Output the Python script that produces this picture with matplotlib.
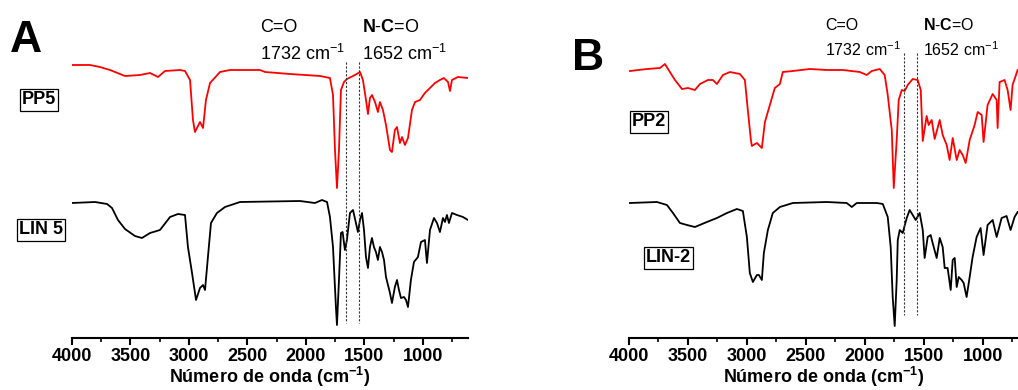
import numpy as np
import matplotlib
matplotlib.use("Agg")
import matplotlib.pyplot as plt
from matplotlib.ticker import MultipleLocator

plt.rcParams['font.family'] = ['Liberation Sans', 'DejaVu Sans']
plt.rcParams['mathtext.fontset'] = 'custom'
plt.rcParams['mathtext.rm'] = 'Liberation Sans'
plt.rcParams['mathtext.bf'] = 'Liberation Sans:bold'
plt.rcParams['mathtext.default'] = 'regular'

# spectra: wavenumber (cm-1) and vertical offset (px from top, larger = lower)
pp5_wn = [4000, 3846, 3761, 3675, 3547, 3419, 3333, 3265, 3205, 3077, 3034, 2991, 2966, 2949,
          2906, 2880, 2855, 2820, 2735, 2650, 2393, 2350, 2137, 1880, 1795, 1769, 1752, 1735,
          1718, 1701, 1675, 1650, 1581, 1538, 1513, 1487, 1470, 1453, 1436, 1410, 1385, 1368,
          1342, 1316, 1282, 1265, 1240, 1222, 1197, 1179, 1154, 1128, 1094, 1068, 1026, 983,
          940, 897, 855, 821, 786, 769, 752, 701, 615]
pp5_off = [65, 65, 67, 70, 76, 75, 73, 77, 71, 70, 71, 80, 120, 132,
           122, 128, 100, 83, 72, 70, 70, 72, 74, 76, 78, 95, 150, 188,
           150, 90, 82, 79, 75, 72, 80, 100, 114, 98, 95, 102, 112, 102,
           110, 125, 150, 152, 130, 127, 143, 137, 145, 138, 110, 102, 100, 93,
           88, 83, 80, 78, 82, 91, 80, 77, 78]

lin5_wn = [4000, 3803, 3700, 3658, 3607, 3547, 3462, 3402, 3333, 3248, 3162, 3094, 3034, 3009,
           2974, 2940, 2906, 2880, 2863, 2838, 2812, 2761, 2692, 2564, 2051, 1923, 1863, 1820,
           1795, 1769, 1744, 1735, 1718, 1701, 1687, 1667, 1650, 1624, 1598, 1573, 1556, 1538,
           1521, 1504, 1487, 1470, 1453, 1436, 1419, 1402, 1385, 1368, 1350, 1333, 1316, 1282,
           1265, 1240, 1222, 1205, 1188, 1162, 1145, 1128, 1103, 1077, 1043, 1017, 983, 966,
           940, 906, 880, 855, 829, 812, 795, 778, 752, 709, 658, 615]
lin5_off = [203, 202, 204, 208, 220, 229, 236, 238, 233, 230, 217, 214, 215, 247,
            273, 300, 288, 285, 290, 257, 223, 213, 207, 202, 201, 203, 200, 202,
            217, 247, 307, 325, 280, 233, 232, 250, 240, 213, 210, 223, 232, 220,
            213, 230, 257, 268, 247, 238, 247, 252, 260, 247, 252, 260, 277, 293,
            303, 287, 280, 290, 298, 297, 300, 307, 280, 262, 257, 242, 240, 263,
            230, 218, 223, 232, 218, 222, 215, 223, 213, 215, 217, 220]

pp2_wn = [3992, 3847, 3737, 3695, 3653, 3610, 3551, 3500, 3441, 3398, 3331, 3288, 3254, 3203,
          3144, 3059, 3017, 2992, 2966, 2958, 2915, 2873, 2847, 2805, 2763, 2720, 2695, 2610,
          2466, 2322, 2186, 2042, 1983, 1941, 1873, 1831, 1805, 1771, 1754, 1729, 1712, 1686,
          1661, 1636, 1593, 1551, 1525, 1508, 1475, 1458, 1432, 1407, 1364, 1339, 1305, 1280,
          1254, 1220, 1195, 1169, 1144, 1110, 1068, 1042, 1008, 992, 958, 915, 881, 873,
          856, 814, 788, 763, 746, 703]
pp2_off = [71, 69, 68, 64, 72, 80, 89, 88, 90, 84, 80, 80, 84, 75,
           72, 74, 80, 110, 140, 146, 143, 148, 122, 105, 88, 84, 72, 71,
           69, 70, 70, 72, 75, 71, 69, 75, 95, 130, 188, 140, 100, 90,
           91, 85, 79, 80, 90, 141, 116, 125, 120, 139, 120, 135, 145, 160,
           138, 160, 150, 155, 163, 140, 125, 112, 115, 142, 105, 94, 100, 128,
           82, 80, 90, 110, 85, 70]

lin2_wn = [3992, 3763, 3678, 3627, 3568, 3508, 3441, 3339, 3254, 3169, 3085, 3034, 3000, 2975,
           2949, 2915, 2898, 2873, 2856, 2822, 2780, 2720, 2610, 2322, 2153, 2110, 2068, 1898,
           1847, 1805, 1780, 1763, 1746, 1729, 1720, 1703, 1678, 1644, 1619, 1593, 1568, 1534,
           1508, 1492, 1466, 1441, 1424, 1390, 1364, 1339, 1322, 1297, 1271, 1254, 1237, 1220,
           1203, 1178, 1161, 1136, 1110, 1085, 1051, 1017, 992, 958, 915, 881, 839, 797,
           763, 729, 703]
lin2_off = [203, 202, 205, 213, 223, 225, 227, 222, 218, 213, 209, 211, 237, 273,
            282, 275, 275, 280, 253, 230, 213, 207, 203, 202, 203, 207, 203, 203,
            204, 217, 247, 297, 326, 280, 240, 230, 233, 218, 210, 215, 220, 213,
            230, 258, 237, 235, 243, 258, 238, 247, 268, 268, 290, 260, 258, 287,
            277, 280, 283, 297, 277, 257, 237, 228, 255, 225, 220, 237, 218, 216,
            230, 217, 212]

ticks = [4000, 3500, 3000, 2500, 2000, 1500, 1000]

W, H = 1018, 390
fig = plt.figure(figsize=(W / 100, H / 100), dpi=100)


def px_axes(x0, x1):
    return fig.add_axes([x0 / W, 1 - 338 / H, (x1 - x0) / W, 338 / H])


def style(ax, xlim):
    ax.set_xlim(*xlim)
    ax.set_ylim(338, 0)
    for s in ['left', 'right', 'top']:
        ax.spines[s].set_visible(False)
    ax.spines['bottom'].set_linewidth(1.5)
    ax.set_yticks([])
    ax.set_xticks(ticks)
    ax.xaxis.set_minor_locator(MultipleLocator(250))
    ax.tick_params(axis='x', which='major', direction='out', length=5, width=1.5,
                   labelsize=13, pad=2)
    ax.tick_params(axis='x', which='minor', direction='out', length=3, width=1.2)
    for lab in ax.get_xticklabels():
        lab.set_fontweight('bold')
    ax.patch.set_alpha(0)


def box_label(x, y, s):
    fig.text(x / W, 1 - y / H, s, fontsize=13, fontweight='bold', ha='left', va='center',
             bbox=dict(boxstyle='square,pad=0.12', fc='white', ec='black', lw=0.9))


def wn_at(px, x0, scale):
    return 4000 - (px - x0) / scale


# panel A
axA = px_axes(72, 468)
style(axA, (4000, 615))
axA.plot(pp5_wn, pp5_off, color='red', lw=1.3)
axA.plot(lin5_wn, lin5_off, color='black', lw=1.3)
for wn in [1658, 1547]:
    axA.plot([wn, wn], [62, 323], color='#333333', lw=0.8, ls=(0, (2, 1.5)))
for px, row in [(260, ('C=O', '1732 cm$^{-1}$')), (362, (r'$\mathbf{N\text{-}C}$=O', '1652 cm$^{-1}$'))]:
    axA.text(wn_at(px, 72, 0.117), 27, row[0], fontsize=13, va='center', ha='left')
    axA.text(wn_at(px, 72, 0.117), 54, row[1], fontsize=13, va='center', ha='left')
axA.set_xlabel('Número de onda (cm$^{-1}$)', fontsize=13, fontweight='bold', labelpad=0)
fig.text(10 / W, 1 - 40 / H, 'A', fontsize=32, fontweight='bold', va='center', ha='left')
box_label(22, 100, 'PP5')
box_label(19, 230, 'LIN 5')

# panel B
axB = px_axes(629, 1018)
style(axB, (4000, 700))
axB.plot(pp2_wn, pp2_off, color='red', lw=1.3)
axB.plot(lin2_wn, lin2_off, color='black', lw=1.3)
for wn in [1665, 1560]:
    axB.plot([wn, wn], [53, 315], color='#333333', lw=0.8, ls=(0, (2, 1.5)))
for px, row in [(825, ('C=O', '1732 cm$^{-1}$')), (923, (r'$\mathbf{N\text{-}C}$=O', '1652 cm$^{-1}$'))]:
    axB.text(wn_at(px, 629, 0.1179), 25, row[0], fontsize=11.5, va='center', ha='left')
    axB.text(wn_at(px, 629, 0.1179), 50, row[1], fontsize=11.5, va='center', ha='left')
axB.set_xlabel('Número de onda (cm$^{-1}$)', fontsize=13, fontweight='bold', labelpad=0)
fig.text(572 / W, 1 - 59 / H, 'B', fontsize=32, fontweight='bold', va='center', ha='left')
box_label(632, 122, 'PP2')
box_label(646, 258, 'LIN-2')

fig.savefig('out.png', dpi=100)
